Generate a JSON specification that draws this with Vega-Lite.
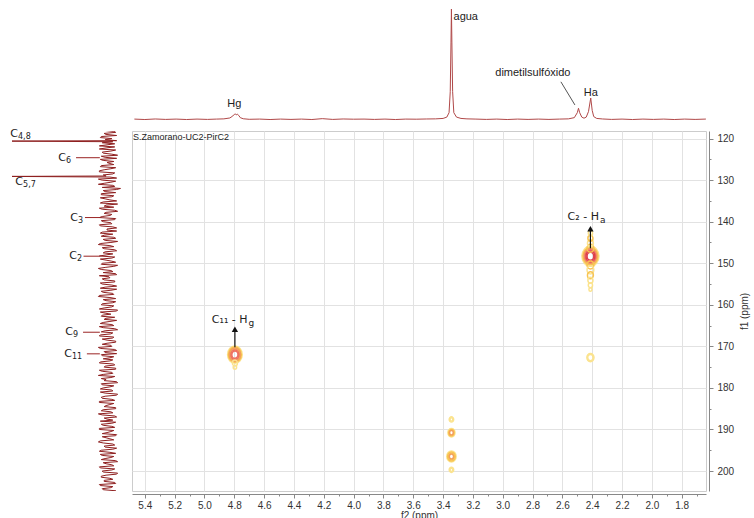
{
"$schema": "https://vega.github.io/schema/vega-lite/v6.json",
"padding": 0,
"autosize": {"type": "pad"},
"background": "white",
"config": {"view": {"stroke": null}, "font": "Liberation Sans"},
"datasets": {
"top": [
{"f2":5.47,"i":0.002},{"f2":5.40,"i":-0.002},{"f2":5.33,"i":0.003},{"f2":5.26,"i":-0.001},{"f2":5.19,"i":0.002},{"f2":5.12,"i":-0.002},{"f2":5.05,"i":0.002},{"f2":4.98,"i":-0.001},{"f2":4.92,"i":0.002},{"f2":4.87,"i":0.004},{"f2":4.83,"i":0.012},{"f2":4.81,"i":0.03},{"f2":4.80,"i":0.045},{"f2":4.79,"i":0.048},{"f2":4.785,"i":0.04},{"f2":4.78,"i":0.046},{"f2":4.77,"i":0.035},{"f2":4.76,"i":0.015},{"f2":4.74,"i":0.005},{"f2":4.70,"i":0.0},{"f2":4.63,"i":0.002},{"f2":4.56,"i":-0.002},{"f2":4.49,"i":0.002},{"f2":4.42,"i":-0.001},{"f2":4.35,"i":0.002},{"f2":4.28,"i":-0.002},{"f2":4.21,"i":0.006},{"f2":4.14,"i":-0.001},{"f2":4.07,"i":0.003},{"f2":4.00,"i":0.001},{"f2":3.93,"i":0.002},{"f2":3.86,"i":-0.001},{"f2":3.79,"i":0.002},{"f2":3.72,"i":-0.002},{"f2":3.65,"i":0.002},{"f2":3.58,"i":0.001},{"f2":3.51,"i":0.003},{"f2":3.45,"i":0.004},{"f2":3.40,"i":0.008},{"f2":3.375,"i":0.02},{"f2":3.36,"i":0.06},{"f2":3.352,"i":0.25},{"f2":3.347,"i":0.7},{"f2":3.344,"i":1.0},{"f2":3.341,"i":0.7},{"f2":3.336,"i":0.25},{"f2":3.328,"i":0.06},{"f2":3.31,"i":0.02},{"f2":3.28,"i":0.008},{"f2":3.24,"i":0.004},{"f2":3.18,"i":0.002},{"f2":3.11,"i":-0.001},{"f2":3.04,"i":0.002},{"f2":2.97,"i":-0.002},{"f2":2.90,"i":0.002},{"f2":2.83,"i":-0.001},{"f2":2.76,"i":0.002},{"f2":2.69,"i":-0.001},{"f2":2.62,"i":0.002},{"f2":2.56,"i":0.004},{"f2":2.52,"i":0.015},{"f2":2.50,"i":0.06},{"f2":2.492,"i":0.10},{"f2":2.484,"i":0.06},{"f2":2.47,"i":0.02},{"f2":2.455,"i":0.01},{"f2":2.44,"i":0.02},{"f2":2.425,"i":0.07},{"f2":2.41,"i":0.193},{"f2":2.40,"i":0.08},{"f2":2.39,"i":0.025},{"f2":2.37,"i":0.008},{"f2":2.33,"i":0.003},{"f2":2.27,"i":-0.001},{"f2":2.20,"i":0.002},{"f2":2.13,"i":-0.002},{"f2":2.06,"i":0.002},{"f2":1.99,"i":-0.001},{"f2":1.92,"i":0.002},{"f2":1.85,"i":-0.002},{"f2":1.78,"i":0.002},{"f2":1.71,"i":-0.001},{"f2":1.64,"i":0.002},{"f2":1.62,"i":0.001}
],
"toplab": [
{"f2":3.248,"i":0.927,"t":"agua"},{"f2":4.80,"i":0.139,"t":"Hg"},{"f2":2.798,"i":0.42,"t":"dimetilsulfóxido"},{"f2":2.41,"i":0.238,"t":"Ha"}
],
"left": [
{"f1":118.0,"i":0.05},{"f1":118.5,"i":-0.08},{"f1":119.0,"i":0.02},{"f1":119.5,"i":0.07},{"f1":120.0,"i":-0.04},{"f1":120.5,"i":-0.09},{"f1":120.6,"i":1.0},{"f1":121.0,"i":0.06},{"f1":121.5,"i":0.01},{"f1":122.0,"i":-0.07},{"f1":122.5,"i":0.09},
{"f1":123.0,"i":-0.03},{"f1":123.5,"i":0.05},{"f1":124.0,"i":-0.1},{"f1":124.5,"i":0.03},{"f1":125.0,"i":0.08},{"f1":125.5,"i":-0.06},{"f1":126.0,"i":-0.02},{"f1":126.5,"i":0.07},{"f1":127.0,"i":-0.08},{"f1":127.5,"i":0.04},
{"f1":128.0,"i":0.09},{"f1":128.5,"i":-0.05},{"f1":129.0,"i":0.02},{"f1":129.1,"i":1.0},{"f1":129.5,"i":-0.09},{"f1":130.0,"i":0.06},{"f1":130.5,"i":-0.03},{"f1":131.0,"i":0.1},{"f1":131.5,"i":-0.07},{"f1":132.0,"i":-0.13},{"f1":132.5,"i":0.05},
{"f1":133.0,"i":-0.08},{"f1":133.5,"i":0.07},{"f1":134.0,"i":-0.04},{"f1":134.5,"i":0.03},{"f1":135.0,"i":-0.09},{"f1":135.5,"i":0.08},{"f1":136.0,"i":0.02},{"f1":136.5,"i":-0.06},{"f1":137.0,"i":0.06},{"f1":137.5,"i":-0.1},
{"f1":138.0,"i":0.04},{"f1":138.5,"i":-0.02},{"f1":139.0,"i":0.09},{"f1":139.5,"i":-0.07},{"f1":140.0,"i":0.05},{"f1":140.5,"i":-0.04},{"f1":141.0,"i":0.08},{"f1":141.5,"i":-0.09},{"f1":142.0,"i":0.01},{"f1":142.5,"i":0.06},
{"f1":143.0,"i":-0.05},{"f1":143.5,"i":0.07},{"f1":144.0,"i":-0.08},{"f1":144.5,"i":0.03},{"f1":145.0,"i":-0.03},{"f1":145.5,"i":0.1},{"f1":146.0,"i":-0.06},{"f1":146.5,"i":0.04},{"f1":147.0,"i":-0.09},{"f1":147.5,"i":0.05},
{"f1":148.0,"i":0.02},{"f1":148.5,"i":-0.07},{"f1":149.0,"i":0.08},{"f1":149.5,"i":-0.04},{"f1":150.0,"i":0.06},{"f1":150.5,"i":-0.1},{"f1":151.0,"i":0.03},{"f1":151.5,"i":0.07},{"f1":152.0,"i":-0.05},{"f1":152.5,"i":-0.08},
{"f1":153.0,"i":0.09},{"f1":153.5,"i":-0.02},{"f1":154.0,"i":0.04},{"f1":154.5,"i":-0.07},{"f1":155.0,"i":0.06},{"f1":155.5,"i":-0.09},{"f1":156.0,"i":0.08},{"f1":156.5,"i":-0.03},{"f1":157.0,"i":0.05},{"f1":157.5,"i":-0.06},
{"f1":158.0,"i":0.1},{"f1":158.5,"i":-0.08},{"f1":159.0,"i":0.02},{"f1":159.5,"i":-0.05},{"f1":160.0,"i":0.07},{"f1":160.5,"i":-0.04},{"f1":161.0,"i":0.09},{"f1":161.5,"i":-0.09},{"f1":162.0,"i":0.03},{"f1":162.5,"i":0.06},
{"f1":163.0,"i":-0.07},{"f1":163.5,"i":0.04},{"f1":164.0,"i":-0.02},{"f1":164.5,"i":0.08},{"f1":165.0,"i":-0.06},{"f1":165.5,"i":0.05},{"f1":166.0,"i":-0.1},{"f1":166.5,"i":0.07},{"f1":167.0,"i":-0.03},{"f1":167.5,"i":0.09},
{"f1":168.0,"i":-0.05},{"f1":168.5,"i":0.01},{"f1":169.0,"i":-0.08},{"f1":169.5,"i":0.06},{"f1":170.0,"i":-0.04},{"f1":170.5,"i":0.08},{"f1":171.0,"i":-0.09},{"f1":171.5,"i":0.03},{"f1":172.0,"i":0.07},{"f1":172.5,"i":-0.06},
{"f1":173.0,"i":0.05},{"f1":173.5,"i":-0.02},{"f1":174.0,"i":0.09},{"f1":174.5,"i":-0.07},{"f1":175.0,"i":0.04},{"f1":175.5,"i":-0.08},{"f1":176.0,"i":0.06},{"f1":176.5,"i":-0.05},{"f1":177.0,"i":0.1},{"f1":177.5,"i":-0.03},
{"f1":178.0,"i":0.02},{"f1":178.5,"i":-0.09},{"f1":179.0,"i":0.07},{"f1":179.5,"i":-0.06},{"f1":180.0,"i":0.05},{"f1":180.5,"i":-0.04},{"f1":181.0,"i":0.08},{"f1":181.5,"i":-0.1},{"f1":182.0,"i":0.03},{"f1":182.5,"i":0.06},
{"f1":183.0,"i":-0.07},{"f1":183.5,"i":0.09},{"f1":184.0,"i":-0.02},{"f1":184.5,"i":0.04},{"f1":185.0,"i":-0.08},{"f1":185.5,"i":0.07},{"f1":186.0,"i":-0.05},{"f1":186.5,"i":0.06},{"f1":187.0,"i":-0.09},{"f1":187.5,"i":0.01},
{"f1":188.0,"i":0.08},{"f1":188.5,"i":-0.04},{"f1":189.0,"i":0.05},{"f1":189.5,"i":-0.07},{"f1":190.0,"i":0.09},{"f1":190.5,"i":-0.03},{"f1":191.0,"i":0.06},{"f1":191.5,"i":-0.08},{"f1":192.0,"i":0.02},{"f1":192.5,"i":-0.06},
{"f1":193.0,"i":0.1},{"f1":193.5,"i":-0.05},{"f1":194.0,"i":0.04},{"f1":194.5,"i":-0.09},{"f1":195.0,"i":0.07},{"f1":195.5,"i":-0.02},{"f1":196.0,"i":0.08},{"f1":196.5,"i":-0.06},{"f1":197.0,"i":0.03},{"f1":197.5,"i":-0.08},
{"f1":198.0,"i":0.05},{"f1":198.5,"i":-0.04},{"f1":199.0,"i":0.09},{"f1":199.5,"i":-0.07},{"f1":200.0,"i":0.06},{"f1":200.5,"i":-0.1},{"f1":201.0,"i":0.02},{"f1":201.5,"i":0.07},{"f1":202.0,"i":-0.05},{"f1":202.5,"i":0.04},
{"f1":203.0,"i":-0.08},{"f1":203.5,"i":0.08},{"f1":204.0,"i":-0.03},{"f1":204.5,"i":0.05},{"f1":205.0,"i":-0.06},
{"f1":118.25,"i":-0.06},{"f1":118.75,"i":0.04},{"f1":119.25,"i":-0.09},{"f1":119.75,"i":0.08},{"f1":120.25,"i":0.03},{"f1":120.75,"i":-0.05},{"f1":121.25,"i":-0.07},{"f1":121.75,"i":0.09},{"f1":122.25,"i":0.02},{"f1":122.75,"i":-0.08},
{"f1":123.25,"i":0.06},{"f1":123.75,"i":-0.04},{"f1":124.25,"i":0.07},{"f1":124.75,"i":-0.09},{"f1":125.25,"i":0.05},{"f1":125.75,"i":0.01},{"f1":126.25,"i":-0.06},{"f1":126.75,"i":0.08},{"f1":127.25,"i":-0.03},{"f1":127.75,"i":0.09},
{"f1":128.25,"i":-0.07},{"f1":128.75,"i":0.05},{"f1":129.25,"i":-0.02},{"f1":129.75,"i":0.1},{"f1":130.25,"i":-0.08},{"f1":130.75,"i":0.04},{"f1":131.25,"i":-0.05},{"f1":131.75,"i":0.06},{"f1":132.25,"i":-0.09},{"f1":132.75,"i":0.03},
{"f1":133.25,"i":0.07},{"f1":133.75,"i":-0.06},{"f1":134.25,"i":0.08},{"f1":134.75,"i":-0.02},{"f1":135.25,"i":0.05},{"f1":135.75,"i":-0.1},{"f1":136.25,"i":0.04},{"f1":136.75,"i":0.09},{"f1":137.25,"i":-0.07},{"f1":137.75,"i":0.02},
{"f1":138.25,"i":-0.04},{"f1":138.75,"i":0.06},{"f1":139.25,"i":-0.08},{"f1":139.75,"i":0.07},{"f1":140.25,"i":-0.03},{"f1":140.75,"i":0.09},{"f1":141.25,"i":-0.05},{"f1":141.75,"i":0.01},{"f1":142.25,"i":-0.09},{"f1":142.75,"i":0.08},
{"f1":143.25,"i":0.04},{"f1":143.75,"i":-0.06},{"f1":144.25,"i":0.05},{"f1":144.75,"i":-0.1},{"f1":145.25,"i":0.08},{"f1":145.75,"i":-0.02},{"f1":146.25,"i":0.06},{"f1":146.75,"i":-0.07},{"f1":147.25,"i":0.03},{"f1":147.75,"i":-0.05},
{"f1":148.25,"i":0.09},{"f1":148.75,"i":-0.04},{"f1":149.25,"i":0.02},{"f1":149.75,"i":-0.08},{"f1":150.25,"i":0.07},{"f1":150.75,"i":-0.06},{"f1":151.25,"i":0.1},{"f1":151.75,"i":-0.03},{"f1":152.25,"i":0.05},{"f1":152.75,"i":-0.09},
{"f1":153.25,"i":-0.01},{"f1":153.75,"i":0.06},{"f1":154.25,"i":-0.07},{"f1":154.75,"i":0.08},{"f1":155.25,"i":-0.04},{"f1":155.75,"i":0.03},{"f1":156.25,"i":-0.09},{"f1":156.75,"i":0.07},{"f1":157.25,"i":-0.05},{"f1":157.75,"i":0.09},
{"f1":158.25,"i":-0.02},{"f1":158.75,"i":0.05},{"f1":159.25,"i":-0.08},{"f1":159.75,"i":0.06},{"f1":160.25,"i":-0.06},{"f1":160.75,"i":0.04},{"f1":161.25,"i":-0.1},{"f1":161.75,"i":0.08},{"f1":162.25,"i":-0.03},{"f1":162.75,"i":0.07},
{"f1":163.25,"i":0.02},{"f1":163.75,"i":-0.09},{"f1":164.25,"i":0.05},{"f1":164.75,"i":-0.04},{"f1":165.25,"i":0.09},{"f1":165.75,"i":-0.07},{"f1":166.25,"i":0.03},{"f1":166.75,"i":-0.05},{"f1":167.25,"i":0.08},{"f1":167.75,"i":-0.06},
{"f1":168.25,"i":0.06},{"f1":168.75,"i":-0.08},{"f1":169.25,"i":0.01},{"f1":169.75,"i":-0.03},{"f1":170.25,"i":0.1},{"f1":170.75,"i":-0.07},{"f1":171.25,"i":0.04},{"f1":171.75,"i":-0.09},{"f1":172.25,"i":0.06},{"f1":172.75,"i":-0.02},
{"f1":173.25,"i":-0.05},{"f1":173.75,"i":0.08},{"f1":174.25,"i":-0.06},{"f1":174.75,"i":0.03},{"f1":175.25,"i":-0.08},{"f1":175.75,"i":0.09},{"f1":176.25,"i":-0.04},{"f1":176.75,"i":0.05},{"f1":177.25,"i":-0.07},{"f1":177.75,"i":0.07},
{"f1":178.25,"i":0.04},{"f1":178.75,"i":-0.1},{"f1":179.25,"i":0.06},{"f1":179.75,"i":-0.02},{"f1":180.25,"i":0.08},{"f1":180.75,"i":-0.05},{"f1":181.25,"i":0.03},{"f1":181.75,"i":-0.09},{"f1":182.25,"i":0.07},{"f1":182.75,"i":-0.04},
{"f1":183.25,"i":0.09},{"f1":183.75,"i":-0.06},{"f1":184.25,"i":0.02},{"f1":184.75,"i":-0.08},{"f1":185.25,"i":0.05},{"f1":185.75,"i":-0.03},{"f1":186.25,"i":0.1},{"f1":186.75,"i":-0.07},{"f1":187.25,"i":0.04},{"f1":187.75,"i":-0.05},
{"f1":188.25,"i":-0.08},{"f1":188.75,"i":0.07},{"f1":189.25,"i":-0.04},{"f1":189.75,"i":0.09},{"f1":190.25,"i":-0.06},{"f1":190.75,"i":0.01},{"f1":191.25,"i":-0.09},{"f1":191.75,"i":0.06},{"f1":192.25,"i":-0.02},{"f1":192.75,"i":0.08},
{"f1":193.25,"i":0.05},{"f1":193.75,"i":-0.07},{"f1":194.25,"i":0.03},{"f1":194.75,"i":-0.05},{"f1":195.25,"i":0.09},{"f1":195.75,"i":-0.08},{"f1":196.25,"i":0.06},{"f1":196.75,"i":-0.03},{"f1":197.25,"i":0.07},{"f1":197.75,"i":-0.1},
{"f1":198.25,"i":0.02},{"f1":198.75,"i":-0.06},{"f1":199.25,"i":0.08},{"f1":199.75,"i":-0.04},{"f1":200.25,"i":0.05},{"f1":200.75,"i":-0.09},{"f1":201.25,"i":0.07},{"f1":201.75,"i":-0.02},{"f1":202.25,"i":0.04},{"f1":202.75,"i":-0.07},
{"f1":203.25,"i":0.09},{"f1":203.75,"i":-0.05},{"f1":204.25,"i":0.06},{"f1":204.75,"i":-0.08}
],
"leftlab": [
{"f1":118.8,"ia":0.9375,"m":"C","s":"4,8"},{"f1":124.6,"ia":0.4375,"m":"C","s":"6"},{"f1":130.5,"ia":0.885,"m":"C","s":"5,7"},{"f1":139.0,"ia":0.3125,"m":"C","s":"3"},{"f1":148.3,"ia":0.323,"m":"C","s":"2"},{"f1":166.6,"ia":0.365,"m":"C","s":"9"},{"f1":171.8,"ia":0.375,"m":"C","s":"11"}
],
"leaders": [
{"f1":124.6,"i1":0.333,"i2":0.085},{"f1":139.0,"i1":0.24,"i2":0.085},{"f1":148.3,"i1":0.255,"i2":0.085},{"f1":166.6,"i1":0.26,"i2":0.085},{"f1":171.8,"i1":0.22,"i2":0.085}
],
"cont": [
{"f2":2.412,"f1":148.3,"e":2.41,"level":1},{"f2":2.412,"f1":148.3,"e":2.12,"level":2},{"f2":2.412,"f1":148.3,"e":1.83,"level":3},{"f2":2.412,"f1":148.3,"e":1.54,"level":4},{"f2":2.412,"f1":148.3,"e":1.25,"level":5},{"f2":2.412,"f1":148.3,"e":0.96,"level":5},
{"f2":2.412,"f1":142.8,"e":0.60,"level":1},{"f2":2.412,"f1":144.0,"e":0.72,"level":2},{"f2":2.412,"f1":145.2,"e":0.84,"level":1},{"f2":2.412,"f1":146.4,"e":0.96,"level":2},{"f2":2.412,"f1":150.4,"e":0.96,"level":2},{"f2":2.412,"f1":151.6,"e":0.96,"level":1},{"f2":2.412,"f1":152.9,"e":0.84,"level":2},{"f2":2.412,"f1":154.1,"e":0.72,"level":1},{"f2":2.412,"f1":155.3,"e":0.60,"level":1},{"f2":2.412,"f1":156.3,"e":0.43,"level":1},
{"f2":4.796,"f1":172.0,"e":2.07,"level":1},{"f2":4.796,"f1":172.0,"e":1.83,"level":2},{"f2":4.796,"f1":172.0,"e":1.59,"level":3},{"f2":4.796,"f1":172.0,"e":1.35,"level":3},{"f2":4.796,"f1":172.0,"e":1.11,"level":4},{"f2":4.796,"f1":172.0,"e":0.87,"level":4},
{"f2":4.796,"f1":174.0,"e":0.72,"level":1},{"f2":4.796,"f1":175.0,"e":0.48,"level":1},
{"f2":2.412,"f1":172.7,"e":1.01,"level":1},{"f2":2.412,"f1":172.7,"e":0.77,"level":1},
{"f2":3.344,"f1":187.6,"e":0.63,"level":1},{"f2":3.344,"f1":187.6,"e":0.39,"level":1},
{"f2":3.344,"f1":190.8,"e":1.01,"level":1},{"f2":3.344,"f1":190.8,"e":0.77,"level":2},{"f2":3.344,"f1":190.8,"e":0.53,"level":3},
{"f2":3.344,"f1":196.5,"e":1.32,"level":1},{"f2":3.344,"f1":196.5,"e":1.08,"level":2},{"f2":3.344,"f1":196.5,"e":0.84,"level":2},{"f2":3.344,"f1":196.5,"e":0.60,"level":3},
{"f2":3.344,"f1":199.7,"e":0.63,"level":1},{"f2":3.344,"f1":199.7,"e":0.39,"level":1}
],
"arrows": [
{"f2":2.412,"tip":141.7,"base":146.4},{"f2":4.796,"tip":165.9,"base":170.2}
],
"xlab": [
{"f2":2.355,"f1":138.9,"m":"C₂ - H","s":"a"},{"f2":4.711,"f1":163.7,"m":"C₁₁ - H","s":"g"}
]
},
"spacing": 6,
"hconcat": [
{
"bounds": "flush",
"spacing": 8,
"vconcat": [
{"width": 125, "height": 123, "data": {"values": [{"a": 1}]}, "mark": {"type": "point", "opacity": 0}},
{
"width": 125, "height": 360,
"layer": [
{"data": {"name": "left"}, "mark": {"type": "line", "color": "#8e1f1f", "strokeWidth": 1, "clip": true},
"encoding": {
"x": {"field": "i", "type": "quantitative", "scale": {"domain": [-0.177, 1.125], "reverse": true, "nice": false, "zero": false}, "axis": null},
"y": {"field": "f1", "type": "quantitative", "scale": {"domain": [118.17, 204.81], "reverse": true, "nice": false, "zero": false}, "axis": null},
"order": {"field": "f1", "type": "quantitative"}}},
{"data": {"name": "leaders"}, "mark": {"type": "rule", "color": "#9a2323", "strokeWidth": 1},
"encoding": {"x": {"field": "i1", "type": "quantitative"}, "x2": {"field": "i2"}, "y": {"field": "f1", "type": "quantitative"}}},
{"data": {"name": "leftlab"}, "mark": {"type": "text", "font": "DejaVu Sans", "fontSize": 11, "color": "#222", "align": "right", "baseline": "middle"},
"encoding": {"x": {"field": "ia", "type": "quantitative"}, "y": {"field": "f1", "type": "quantitative"}, "text": {"field": "m"}}},
{"data": {"name": "leftlab"}, "mark": {"type": "text", "font": "DejaVu Sans", "fontSize": 8, "color": "#222", "align": "left", "baseline": "middle", "dy": 3},
"encoding": {"x": {"field": "ia", "type": "quantitative"}, "y": {"field": "f1", "type": "quantitative"}, "text": {"field": "s"}}}
]
}
]
},
{
"bounds": "flush",
"spacing": 8,
"vconcat": [
{
"width": 574, "height": 123,
"layer": [
{"data": {"name": "top"}, "mark": {"type": "line", "color": "#b04848", "strokeWidth": 1, "clip": true},
"encoding": {
"x": {"field": "f2", "type": "quantitative", "scale": {"domain": [1.637, 5.486], "reverse": true, "nice": false, "zero": false}, "axis": null},
"y": {"field": "i", "type": "quantitative", "scale": {"domain": [-0.0335, 1.0816], "nice": false, "zero": false}, "axis": null}}},
{"data": {"name": "toplab"}, "mark": {"type": "text", "font": "Liberation Sans", "fontSize": 11, "color": "#222", "baseline": "middle", "align": "center"},
"encoding": {"x": {"field": "f2", "type": "quantitative"}, "y": {"field": "i", "type": "quantitative"}, "text": {"field": "t"}}},
{"data": {"values": [{"f2a": 2.61, "ia": 0.34, "f2b": 2.516, "ib": 0.13}]}, "mark": {"type": "rule", "color": "#555", "strokeWidth": 1},
"encoding": {"x": {"field": "f2a", "type": "quantitative"}, "x2": {"field": "f2b"}, "y": {"field": "ia", "type": "quantitative"}, "y2": {"field": "ib"}}}
]
},
{
"width": 574, "height": 360,
"view": {"stroke": "#cccccc"},
"title": {"text": "S.Zamorano-UC2-PirC2", "anchor": "start", "offset": -11, "fontSize": 9, "fontWeight": "normal", "font": "Liberation Sans", "color": "#222", "dx": 1},
"resolve": {"axis": {"x": "independent", "y": "independent"}},
"layer": [
{"data": {"name": "cont"}, "mark": {"type": "point", "opacity": 0},
"encoding": {
"x": {"field": "f2", "type": "quantitative", "scale": {"domain": [1.637, 5.486], "reverse": true, "nice": false, "zero": false},
"axis": {"orient": "bottom", "values": [5.4,5.2,5.0,4.8,4.6,4.4,4.2,4.0,3.8,3.6,3.4,3.2,3.0,2.8,2.6,2.4,2.2,2.0,1.8], "grid": true, "gridColor": "#e2e2e2", "domain": false, "ticks": false, "labels": false, "title": null}},
"y": {"field": "f1", "type": "quantitative", "scale": {"domain": [118.17, 204.81], "reverse": true, "nice": false, "zero": false},
"axis": {"orient": "right", "values": [120,130,140,150,160,170,180,190,200], "grid": true, "gridColor": "#e2e2e2", "domain": false, "ticks": false, "labels": false, "title": null}}}},
{"data": {"name": "cont"}, "mark": {"type": "point", "opacity": 0},
"encoding": {
"x": {"field": "f2", "type": "quantitative",
"axis": {"orient": "bottom", "values": [5.3,5.1,4.9,4.7,4.5,4.3,4.1,3.9,3.7,3.5,3.3,3.1,2.9,2.7,2.5,2.3,2.1,1.9,1.7], "grid": false, "domain": false, "ticks": true, "tickSize": 2, "tickColor": "#888", "labels": false, "title": null, "offset": 3}},
"y": {"field": "f1", "type": "quantitative",
"axis": {"orient": "right", "values": [125,135,145,155,165,175,185,195], "grid": false, "domain": false, "ticks": true, "tickSize": 2, "tickColor": "#888", "labels": false, "title": null, "offset": 3}}}},
{"data": {"name": "cont"},
"mark": {"type": "point", "filled": false, "strokeWidth": 1.5, "opacity": 1, "shape": "M 0 -1 C 0.469 -1 0.85 -0.552 0.85 0 C 0.85 0.552 0.469 1 0 1 C -0.469 1 -0.85 0.552 -0.85 0 C -0.85 -0.552 -0.469 -1 0 -1 Z"},
"encoding": {
"x": {"field": "f2", "type": "quantitative",
"axis": {"orient": "bottom", "values": [5.4,5.2,5.0,4.8,4.6,4.4,4.2,4.0,3.8,3.6,3.4,3.2,3.0,2.8,2.6,2.4,2.2,2.0,1.8], "format": ".1f", "grid": false, "offset": 3, "domainColor": "#888", "tickColor": "#888", "tickSize": 4, "labelFontSize": 10, "labelColor": "#333", "labelPadding": 2, "title": "f2 (ppm)", "titleFontSize": 10, "titleFontWeight": "normal", "titleColor": "#333", "titlePadding": 0}},
"y": {"field": "f1", "type": "quantitative",
"axis": {"orient": "right", "values": [120,130,140,150,160,170,180,190,200], "grid": false, "offset": 3, "domainColor": "#888", "tickColor": "#888", "tickSize": 4, "labelFontSize": 10, "labelColor": "#333", "labelPadding": 4, "title": "f1 (ppm)", "titleAngle": 270, "titleFontSize": 10, "titleFontWeight": "normal", "titleColor": "#333", "titlePadding": 16}},
"size": {"field": "e", "type": "quantitative", "scale": {"type": "pow", "exponent": 2, "domain": [0, 3], "range": [0, 621.5]}, "legend": null},
"color": {"field": "level", "type": "ordinal", "scale": {"domain": [1,2,3,4,5], "range": ["#fbe38e", "#f8c452", "#f4a05a", "#ee7060", "#df3f4a"]}, "legend": null},
"order": {"field": "e", "sort": "descending"}}},
{"data": {"name": "arrows"}, "mark": {"type": "rule", "color": "#111", "strokeWidth": 1.2},
"encoding": {"x": {"field": "f2", "type": "quantitative", "axis": null}, "y": {"field": "tip", "type": "quantitative", "axis": null}, "y2": {"field": "base"}}},
{"data": {"name": "arrows"}, "mark": {"type": "point", "shape": "triangle-up", "filled": true, "size": 40, "color": "#111", "opacity": 1},
"encoding": {"x": {"field": "f2", "type": "quantitative", "axis": null}, "y": {"field": "tip", "type": "quantitative", "axis": null}}},
{"data": {"name": "xlab"}, "mark": {"type": "text", "font": "DejaVu Sans", "fontSize": 11, "color": "#222", "align": "right", "baseline": "middle"},
"encoding": {"x": {"field": "f2", "type": "quantitative", "axis": null}, "y": {"field": "f1", "type": "quantitative", "axis": null}, "text": {"field": "m"}}},
{"data": {"name": "xlab"}, "mark": {"type": "text", "font": "DejaVu Sans", "fontSize": 9, "color": "#222", "align": "left", "baseline": "middle", "dy": 3, "dx": 1},
"encoding": {"x": {"field": "f2", "type": "quantitative", "axis": null}, "y": {"field": "f1", "type": "quantitative", "axis": null}, "text": {"field": "s"}}}
]
}
]
}
]
}
